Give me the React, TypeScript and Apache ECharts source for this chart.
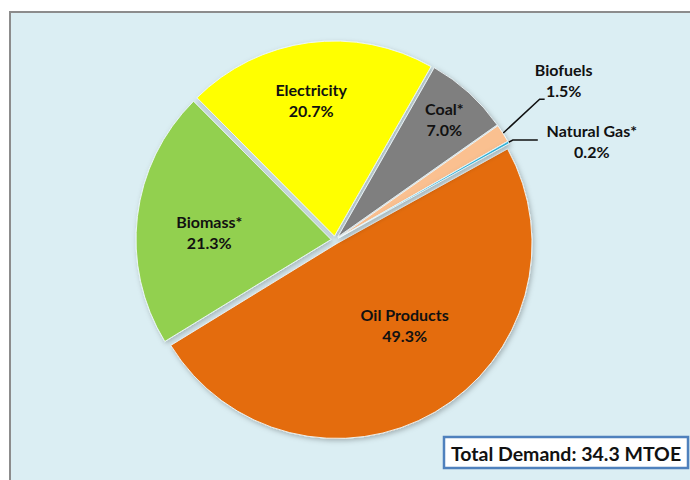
import React, { useEffect, useRef } from 'react';
import * as echarts from 'echarts';

const categories = ['Oil Products', 'Biomass*', 'Electricity', 'Coal*', 'Biofuels', 'Natural Gas*'];
const shares = [49.3, 21.3, 20.7, 7.0, 1.5, 0.2];
const sliceColors = ['#e46c0a', '#92d050', '#ffff00', '#7f7f7f', '#fac090', '#31b0d5'];
const totalLabel = 'Total Demand: 34.3 MTOE';

// label nudges relative to ECharts' default label anchor
const labelNudge: number[][] = [[17, -5], [-22, 4], [-10, -36], [39, -44], [3, -45], [0, 1]];
const outsideIdx = [4, 5];
const outsideWidth = [0, 0, 0, 0, 60, 98];
const lineLen: number[][] = [[0, 0], [0, 0], [0, 0], [0, 0], [15, 10], [5, 25]];

export default function App() {
  const ref = useRef<HTMLDivElement>(null);
  useEffect(() => {
    if (!ref.current) return;
    const chart = echarts.init(ref.current, undefined, { renderer: 'svg' });
    const fmt = (i: number) => `${categories[i]}\n${shares[i].toFixed(1)}%`;
    const data = categories.map((name, i) => {
      const item: any = {
        name,
        value: shares[i],
        selected: true,
        itemStyle: { color: sliceColors[i] },
      };
      if (outsideIdx.includes(i)) {
        item.label = {
          position: 'outside',
          formatter: `{t|${categories[i]}}\n{t|${shares[i].toFixed(1)}%}`,
          rich: {
            t: {
              width: outsideWidth[i],
              align: 'center',
              fontFamily: 'Lato',
              fontWeight: 'bold',
              fontSize: 16,
              lineHeight: 21,
              color: '#111',
            },
          },
        };
        item.labelLine = {
          show: true,
          length: lineLen[i][0],
          length2: lineLen[i][1],
          lineStyle: { color: '#111', width: 1.5 },
        };
      } else {
        item.label = { position: 'inside', formatter: fmt(i) };
      }
      return item;
    });
    chart.setOption({
      animation: false,
      backgroundColor: '#ffffff',
      graphic: [
        {
          type: 'rect',
          shape: { x: 10, y: 12, width: 700, height: 500 },
          style: { fill: '#dbeef3', stroke: '#8c8c8c', lineWidth: 2 },
          z: -10,
        },
        {
          type: 'group',
          z: 10,
          children: [
            {
              type: 'rect',
              shape: { x: 444, y: 437, width: 244, height: 31 },
              style: { fill: '#ffffff', stroke: '#4f81bd', lineWidth: 2.5 },
            },
            {
              type: 'text',
              x: 566,
              y: 453,
              style: {
                text: totalLabel,
                fontFamily: 'Lato',
                fontWeight: 'bold',
                fontSize: 19.5,
                fill: '#111',
                align: 'center',
                verticalAlign: 'middle',
              },
            },
          ],
        },
      ],
      series: [
        {
          type: 'pie',
          center: [335, 240],
          radius: 195,
          startAngle: 29,
          clockwise: true,
          selectedMode: 'multiple',
          selectedOffset: 4,
          avoidLabelOverlap: false,
          emphasis: { disabled: true },
          itemStyle: {
            borderColor: 'rgba(240,248,252,0.9)',
            borderWidth: 1,
            shadowBlur: 5,
            shadowColor: 'rgba(0,0,0,0.25)',
            shadowOffsetX: 1.5,
            shadowOffsetY: 2,
          },
          label: {
            show: true,
            position: 'inside',
            fontFamily: 'Lato',
            fontWeight: 'bold',
            fontSize: 16,
            lineHeight: 21,
            color: '#111',
          },
          labelLine: { show: true, lineStyle: { color: '#111', width: 1.5 } },
          labelLayout: (p: any) => {
            const i = p.dataIndex;
            const [dx, dy] = labelNudge[i];
            const res: any = { dx, dy };
            if (i === 4 && p.labelLinePoints && p.labelRect) {
              const r = p.labelRect;
              const cx = r.x + dx + r.width / 2;
              const y = r.y + dy + r.height * 0.95;
              res.labelLinePoints = [p.labelLinePoints[0], [cx - 24, y], [cx - 19, y]];
            }
            return res;
          },
          data,
        },
      ],
    });
    return () => chart.dispose();
  }, []);
  return <div ref={ref} style={{ position: 'absolute', left: 0, top: 0, width: 690, height: 480 }} />;
}
